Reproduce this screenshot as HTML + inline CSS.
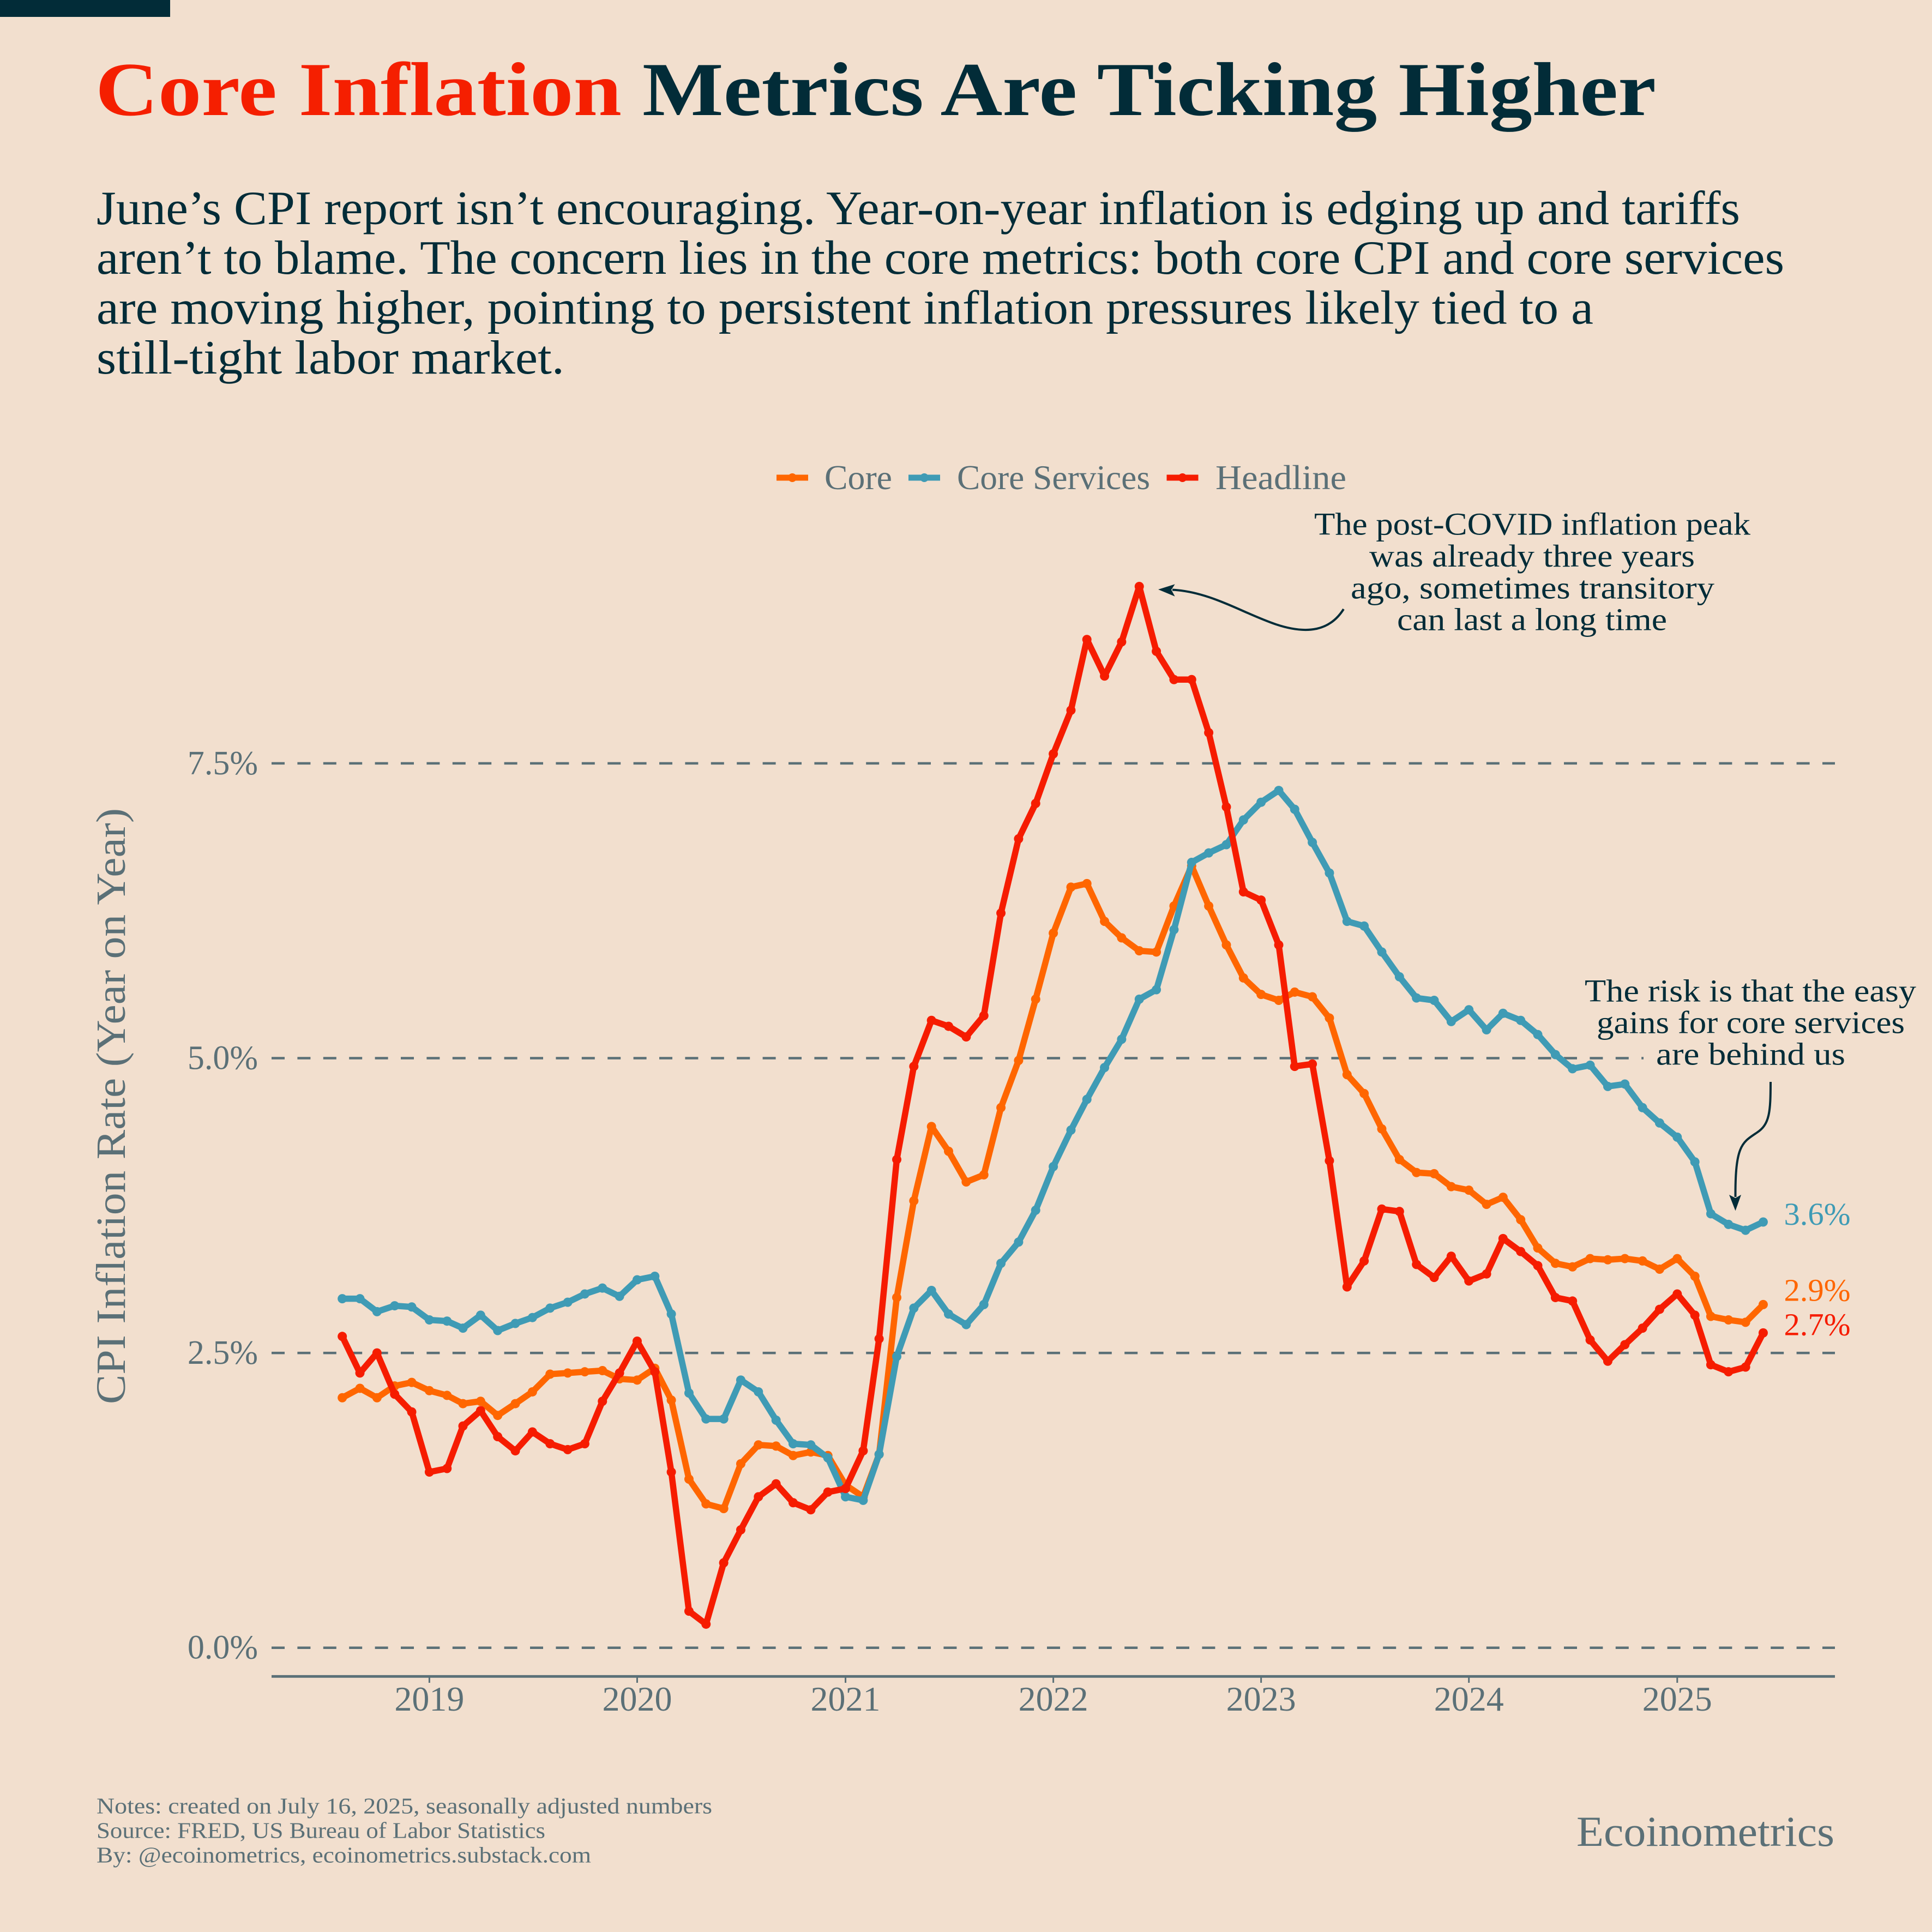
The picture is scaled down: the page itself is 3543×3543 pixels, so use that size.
<!DOCTYPE html>
<html lang="en">
<head>
<meta charset="utf-8">
<title>Core Inflation Metrics Are Ticking Higher</title>
<style>
html,body{margin:0;padding:0;background:#f2dfce;}
svg{display:block;}
text{font-family:"Liberation Serif",serif;}
.dark{fill:#022c38;}
.grey{fill:#5b7077;}
</style>
</head>
<body>
<svg id="chart" xmlns="http://www.w3.org/2000/svg" width="3543" height="3543" viewBox="0 0 3543 3543">
  <rect x="0" y="0" width="3543" height="3543" fill="#f2dfce"/>
  <rect x="0" y="0" width="312" height="31" fill="#022c38"/>

  <text x="175" y="211" font-size="140" font-weight="700" fill="#f51f00" textLength="965" lengthAdjust="spacingAndGlyphs">Core Inflation</text>
  <text class="dark" x="1178" y="211" font-size="140" font-weight="700" textLength="1859" lengthAdjust="spacingAndGlyphs">Metrics Are Ticking Higher</text>

  <g class="dark" font-size="88">
    <text x="177" y="411" textLength="3014" lengthAdjust="spacingAndGlyphs">June’s CPI report isn’t encouraging. Year-on-year inflation is edging up and tariffs</text>
    <text x="177" y="502" textLength="3095" lengthAdjust="spacingAndGlyphs">aren’t to blame. The concern lies in the core metrics: both core CPI and core services</text>
    <text x="177" y="593.5" textLength="2745" lengthAdjust="spacingAndGlyphs">are moving higher, pointing to persistent inflation pressures likely tied to a</text>
    <text x="177" y="685" textLength="858" lengthAdjust="spacingAndGlyphs">still-tight labor market.</text>
  </g>

  <g>
    <g>
      <rect x="1424" y="870.5" width="58" height="11" fill="#ff6600"/>
      <circle cx="1453" cy="876" r="8" fill="#ff6600"/>
      <text class="grey" x="1512" y="897" font-size="63" textLength="124" lengthAdjust="spacingAndGlyphs">Core</text>
    </g>
    <g>
      <rect x="1666" y="870.5" width="58" height="11" fill="#3f9bb5"/>
      <circle cx="1695" cy="876" r="8" fill="#3f9bb5"/>
      <text class="grey" x="1755" y="897" font-size="63" textLength="354" lengthAdjust="spacingAndGlyphs">Core Services</text>
    </g>
    <g>
      <rect x="2139.5" y="870.5" width="58" height="11" fill="#f61c00"/>
      <circle cx="2168.5" cy="876" r="8" fill="#f61c00"/>
      <text class="grey" x="2229" y="897" font-size="63" textLength="240" lengthAdjust="spacingAndGlyphs">Headline</text>
    </g>
  </g>

  <text class="grey" transform="translate(229 2575) rotate(-90)" x="0" y="0" font-size="76" textLength="1093" lengthAdjust="spacingAndGlyphs">CPI Inflation Rate (Year on Year)</text>

  <g id="grid-layer"></g>
  <rect x="3014" y="1905" width="400" height="62" fill="#f2dfce"/>
  <g id="axis-layer"></g>
  <g id="y-label-layer"></g>
  <g id="series-layer"></g>
  <g id="end-label-layer"></g>

  <g class="dark" font-size="58">
    <text x="2410" y="980.7" textLength="800" lengthAdjust="spacingAndGlyphs">The post-COVID inflation peak</text>
    <text x="2511" y="1039" textLength="597" lengthAdjust="spacingAndGlyphs">was already three years</text>
    <text x="2477" y="1097.5" textLength="667" lengthAdjust="spacingAndGlyphs">ago, sometimes transitory</text>
    <text x="2562" y="1155.7" textLength="495" lengthAdjust="spacingAndGlyphs">can last a long time</text>
  </g>
  <path d="M2464 1117 C2440 1155 2400 1165 2340 1145 C2280 1125 2220 1085 2150 1081.6" fill="none" stroke="#022c38" stroke-width="4"/>
  <polygon points="2124,1081 2154.6,1071.4 2148,1081.6 2154.6,1093.7" fill="#022c38"/>

  <g class="dark" font-size="58">
    <text x="2906" y="1836.7" textLength="608" lengthAdjust="spacingAndGlyphs">The risk is that the easy</text>
    <text x="2928" y="1894.5" textLength="565" lengthAdjust="spacingAndGlyphs">gains for core services</text>
    <text x="3037" y="1952.5" textLength="347" lengthAdjust="spacingAndGlyphs">are behind us</text>
  </g>
  <path d="M3247 1984 C3247 2040 3245 2062 3222 2077 C3195 2095 3182 2100 3182.5 2195" fill="none" stroke="#022c38" stroke-width="4"/>
  <polygon points="3182.5,2220.4 3171,2191 3182.5,2197 3193,2191" fill="#022c38"/>

  <g class="grey" font-size="41">
    <text x="177" y="3325.5" textLength="1129" lengthAdjust="spacingAndGlyphs">Notes: created on July 16, 2025, seasonally adjusted numbers</text>
    <text x="177" y="3370.5" textLength="823" lengthAdjust="spacingAndGlyphs">Source: FRED, US Bureau of Labor Statistics</text>
    <text x="177" y="3415.5" textLength="907" lengthAdjust="spacingAndGlyphs">By: @ecoinometrics, ecoinometrics.substack.com</text>
  </g>
  <text class="grey" x="2891" y="3385" font-size="78" textLength="473" lengthAdjust="spacingAndGlyphs">Ecoinometrics</text>
</svg>
<script>
const months = [
  "2018-08","2018-09","2018-10","2018-11","2018-12",
  "2019-01","2019-02","2019-03","2019-04","2019-05","2019-06","2019-07","2019-08","2019-09","2019-10","2019-11","2019-12",
  "2020-01","2020-02","2020-03","2020-04","2020-05","2020-06","2020-07","2020-08","2020-09","2020-10","2020-11","2020-12",
  "2021-01","2021-02","2021-03","2021-04","2021-05","2021-06","2021-07","2021-08","2021-09","2021-10","2021-11","2021-12",
  "2022-01","2022-02","2022-03","2022-04","2022-05","2022-06","2022-07","2022-08","2022-09","2022-10","2022-11","2022-12",
  "2023-01","2023-02","2023-03","2023-04","2023-05","2023-06","2023-07","2023-08","2023-09","2023-10","2023-11","2023-12",
  "2024-01","2024-02","2024-03","2024-04","2024-05","2024-06","2024-07","2024-08","2024-09","2024-10","2024-11","2024-12",
  "2025-01","2025-02","2025-03","2025-04","2025-05","2025-06"
];
const coreValues = [
  2.12,2.20,2.12,2.22,2.25,
  2.18,2.14,2.07,2.09,1.97,2.07,2.17,2.32,2.33,2.34,2.35,2.28,
  2.27,2.37,2.10,1.43,1.22,1.18,1.56,1.72,1.71,1.63,1.66,1.63,
  1.38,1.28,1.64,2.97,3.79,4.42,4.21,3.95,4.01,4.58,4.98,5.50,
  6.06,6.45,6.48,6.16,6.02,5.91,5.90,6.29,6.63,6.29,5.96,5.68,
  5.54,5.49,5.56,5.52,5.34,4.86,4.70,4.40,4.14,4.03,4.02,3.91,
  3.88,3.76,3.82,3.63,3.39,3.26,3.23,3.30,3.29,3.30,3.28,3.21,
  3.30,3.15,2.81,2.78,2.76,2.91
];
const servicesValues = [
  2.96,2.96,2.85,2.90,2.89,
  2.78,2.77,2.71,2.82,2.69,2.75,2.80,2.88,2.93,3.00,3.05,2.98,
  3.12,3.15,2.83,2.16,1.94,1.94,2.27,2.17,1.93,1.73,1.72,1.61,
  1.28,1.25,1.64,2.47,2.88,3.03,2.83,2.74,2.91,3.26,3.44,3.71,
  4.08,4.39,4.65,4.92,5.16,5.50,5.58,6.09,6.66,6.74,6.81,7.02,
  7.17,7.27,7.11,6.83,6.57,6.16,6.12,5.90,5.69,5.51,5.49,5.31,
  5.41,5.24,5.38,5.32,5.20,5.03,4.91,4.94,4.76,4.78,4.58,4.45,
  4.33,4.12,3.68,3.59,3.54,3.61
];
const headlineValues = [
  2.64,2.33,2.50,2.15,2.00,
  1.49,1.52,1.88,2.01,1.79,1.67,1.83,1.73,1.68,1.73,2.09,2.33,
  2.60,2.34,1.49,0.31,0.20,0.72,1.00,1.28,1.39,1.23,1.17,1.32,
  1.35,1.67,2.62,4.14,4.93,5.32,5.27,5.18,5.36,6.23,6.86,7.16,
  7.58,7.95,8.55,8.24,8.53,9.00,8.45,8.21,8.21,7.76,7.13,6.41,
  6.34,5.96,4.93,4.95,4.13,3.06,3.28,3.72,3.70,3.25,3.14,3.32,
  3.11,3.17,3.47,3.36,3.24,2.97,2.94,2.61,2.43,2.57,2.71,2.87,
  3.00,2.82,2.40,2.34,2.38,2.67
];
const yTickValues = [0, 2.5, 5, 7.5];
const yTickLabels = ["0.0%", "2.5%", "5.0%", "7.5%"];
const xTickYears = ["2019", "2020", "2021", "2022", "2023", "2024", "2025"];

const NS = "http://www.w3.org/2000/svg";
const DAY = 86400000;
const X_ORIGIN = Date.UTC(2019, 0, 1);
function xScale(dateText) {
  const parts = dateText.split("-");
  const t = Date.UTC(+parts[0], (+parts[1] || 1) - 1, 1);
  return 787.4 + ((t - X_ORIGIN) / DAY) * 1.04398;
}
function yScale(v) {
  return 3021.7 - v * 216.25;
}
function make(tag, attrs, parent) {
  const el = document.createElementNS(NS, tag);
  for (const k in attrs) el.setAttribute(k, attrs[k]);
  parent.appendChild(el);
  return el;
}

const gridLayer = document.getElementById("grid-layer");
const yLabelLayer = document.getElementById("y-label-layer");
yTickValues.forEach(function (v, i) {
  const line = make("line", {x1: 498, x2: 3365, y1: yScale(v), y2: yScale(v), stroke: "#5b7077", "stroke-width": 4.5, "stroke-dasharray": "24 23.4"}, gridLayer);
  
  
  const label = make("text", {x: 473, y: yScale(v) + 20, "text-anchor": "end", "font-size": 62, "class": "grey"}, yLabelLayer);
  
  
  label.textContent = yTickLabels[i];
});

const axisLayer = document.getElementById("axis-layer");
const axisLine = make("line", {x1: 498, x2: 3365, y1: 3074.3, y2: 3074.3, stroke: "#5b7077", "stroke-width": 4.8}, axisLayer);


xTickYears.forEach(function (year) {
  const x = xScale(year);
  const tick = make("line", {x1: x, x2: x, y1: 3074, y2: 3086, stroke: "#5b7077", "stroke-width": 3}, axisLayer);
  
  
  const label = make("text", {x: x, y: 3137, "text-anchor": "middle", "font-size": 64, "class": "grey"}, axisLayer);
  
  
  label.textContent = year;
});

const seriesLayer = document.getElementById("series-layer");
const endLabelLayer = document.getElementById("end-label-layer");
function drawSeries(values, color, key, labelNudge) {
  const group = make("g", {}, seriesLayer);
  
  
  const pts = values.map(function (v, i) { return xScale(months[i]).toFixed(2) + "," + yScale(v).toFixed(2); }).join(" ");
  const line = make("polyline", {points: pts, fill: "none", stroke: color, "stroke-width": 11.5, "stroke-linejoin": "round", "stroke-linecap": "round"}, group);
  
  
  values.forEach(function (v, i) {
    const dot = make("circle", {cx: xScale(months[i]), cy: yScale(v), r: 8.5, fill: color}, group);
    
    
  });
  const last = values[values.length - 1];
  const endLabel = make("text", {x: 3271.5, y: yScale(last) + labelNudge, "font-size": 58, fill: color, textLength: 122, lengthAdjust: "spacingAndGlyphs"}, endLabelLayer);
  
  
  endLabel.textContent = last.toFixed(1) + "%";
}
drawSeries(coreValues, "#ff6600", "core", -7);
drawSeries(servicesValues, "#3f9bb5", "core-services", 5);
drawSeries(headlineValues, "#f61c00", "headline", 4);
</script>
</body>
</html>
